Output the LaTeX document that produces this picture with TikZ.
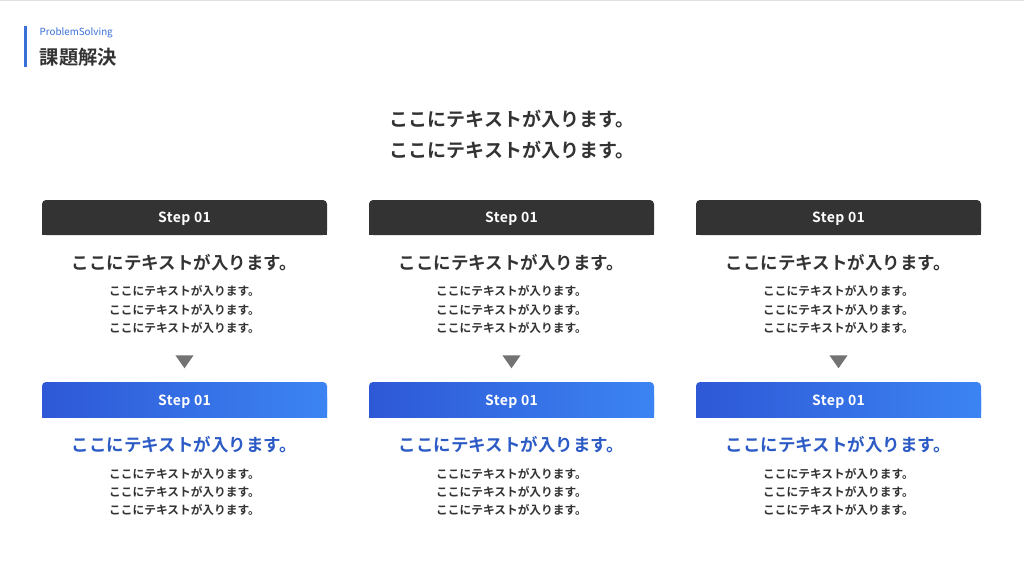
\documentclass[tikz,border=0pt]{standalone}
\usepackage{fontspec}
\setmainfont{Noto Sans CJK JP}[BoldFont={* Bold}]
\newfontfamily\stepfont{Noto Sans CJK JP}[LetterSpace=3,BoldFont={* Bold}]
\usetikzlibrary{shapes.geometric}
\definecolor{darkbox}{HTML}{333333}
\definecolor{txt}{HTML}{333333}
\definecolor{blueL}{HTML}{2E58D6}
\definecolor{blueR}{HTML}{3C84F3}
\definecolor{bluetxt}{HTML}{2C5BC6}
\definecolor{accent}{HTML}{3A6FD8}
\definecolor{tri}{HTML}{737373}
\tikzset{
  hdrtext/.style={text=white,font=\stepfont\bfseries\fontsize{14}{16}\selectfont,inner sep=0pt},
  bigtitle/.style={text=txt,font=\bfseries\fontsize{19}{31}\selectfont,align=center,inner sep=0pt},
  headline/.style={text=txt,font=\bfseries\fontsize{17.5}{20}\selectfont,inner sep=0pt},
  blueline/.style={text=bluetxt,font=\bfseries\fontsize{17.5}{20}\selectfont,inner sep=0pt},
  smalltxt/.style={text=txt,font=\bfseries\fontsize{11.7}{18.2}\selectfont,align=center,inner sep=0pt},
  arrowtri/.style={isosceles triangle,isosceles triangle apex angle=70,shape border rotate=-90,fill=tri,inner sep=0pt,minimum width=15pt,minimum height=13pt,anchor=center},
}
\begin{document}
\begin{tikzpicture}[x=1pt,y=-1pt]
\useasboundingbox (0,0) rectangle (1024,578);
\fill[white] (0,0) rectangle (1024,578);
\fill[black!12] (0,0) rectangle (1024,1.5);
% header
\fill[accent] (24,26) rectangle (26.5,67);
\node[anchor=west,text=accent,font=\fontsize{9.8}{10}\selectfont,inner sep=0pt] (ps) at (39.5,33) {ProblemSolving};
\node[anchor=west,text=txt,font=\bfseries\fontsize{19.3}{20}\selectfont,inner sep=0pt] (ttl) at (39.5,57.5) {課題解決};
\node[bigtitle] (main) at (512,134.5) {ここにテキストが入ります。\\ここにテキストが入ります。};
\foreach \c/\n in {184.5/a,511.5/b,838.5/c}{
  % dark header
  \fill[darkbox,rounded corners=4pt] (\c-142.5,200) rectangle (\c+142.5,235);
  \fill[darkbox] (\c-142.5,215) rectangle (\c+142.5,235);
  \node[hdrtext] (d\n) at (\c,219) {Step 01};
  \node[headline] (h\n) at (\c,263) {ここにテキストが入ります。};
  \node[smalltxt] (s\n) at (\c,309.5) {ここにテキストが入ります。\\ここにテキストが入ります。\\ここにテキストが入ります。};
  \node[arrowtri] (t\n) at (\c,360) {};
  % blue header
  \shade[left color=blueL,right color=blueR,rounded corners=4pt] (\c-142.5,382) rectangle (\c+142.5,417);
  \shade[left color=blueL,right color=blueR] (\c-142.5,397) rectangle (\c+142.5,417);
  \node[hdrtext] (u\n) at (\c,402) {Step 01};
  \node[blueline] (k\n) at (\c,445) {ここにテキストが入ります。};
  \node[smalltxt] (r\n) at (\c,492) {ここにテキストが入ります。\\ここにテキストが入ります。\\ここにテキストが入ります。};
}
\end{tikzpicture}
\end{document}
